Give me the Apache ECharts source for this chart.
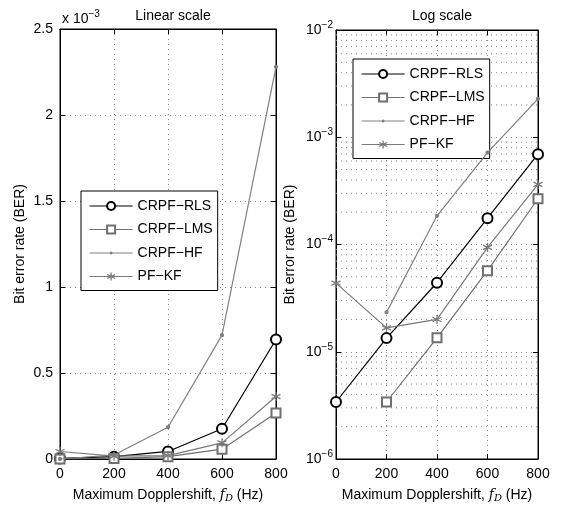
<!DOCTYPE html>
<html><head><meta charset="utf-8">
<script src="https://cdn.jsdelivr.net/npm/echarts@6/dist/echarts.min.js"></script>
<style>html,body{margin:0;padding:0;background:#fff}#c{width:562px;height:508px}</style>
</head><body><div id="c"></div>
<script>
// ---- data ----
const dopplerShift = [0, 200, 400, 600, 800];
const seriesNames = ['CRPF−RLS', 'CRPF−LMS', 'CRPF−HF', 'PF−KF'];
const berRLS = [3.4e-6, 1.34e-5, 4.4e-5, 1.76e-4, 6.95e-4];
const berLMS = [0, 3.4e-6, 1.35e-5, 5.7e-5, 2.67e-4];
const berHF  = [0, 2.33e-5, 1.85e-4, 7.2e-4, 2.28e-3];
const berKF  = [4.36e-5, 1.67e-5, 2.0e-5, 9.4e-5, 3.63e-4];
const linearTicks = [0, 0.5e-3, 1e-3, 1.5e-3, 2e-3, 2.5e-3];
const logDecades = [1e-6, 1e-5, 1e-4, 1e-3, 1e-2];

// ---- styling ----
const FONT = 'Liberation Sans, Arial, Helvetica, sans-serif';
const asterisk = 'path://M0,-5L0,5M-4.33,-2.5L4.33,2.5M-4.33,2.5L4.33,-2.5';
const dotLineIcon = 'path://M0,0L0,0ZM43,10L43,10ZM0,4.4L43,4.4L43,5.6L0,5.6ZM21.5,3.5A1.5,1.5,0,1,1,21.49,3.5Z';
const styles = [
  {color: '#000000', symbol: 'emptyCircle', size: 10},
  {color: '#6f6f6f', symbol: 'emptyRect', size: 9},
  {color: '#808080', symbol: 'circle', size: 3},
  {color: '#7a7a7a', symbol: asterisk, size: 9}
];
const allData = [berRLS, berLMS, berHF, berKF];

const GRIDCOL = '#8a8a8a';
const gridLine = {show: true, lineStyle: {color: GRIDCOL, type: [1, 4], width: 1}};
const axisLine = {show: true, onZero: false, lineStyle: {color: '#000', width: 1}};
const tickIn = {show: true, inside: true, length: 5, lineStyle: {color: '#000'}};
const labelStyle = {color: '#000', fontFamily: FONT, fontSize: 14};

function xAxes(gridIndex) {
  return [
    {type: 'value', gridIndex, min: 0, max: 800, interval: 200, position: 'bottom',
     axisLine, axisTick: tickIn, splitLine: gridLine,
     axisLabel: Object.assign({margin: 8}, labelStyle),
     name: 'Maximum Dopplershift, {it|f}{sub|D} (Hz)', nameLocation: 'middle', nameGap: 28,
     nameTextStyle: {color: '#000', fontFamily: FONT, fontSize: 14,
       rich: {it: {fontFamily: 'DejaVu Serif, serif', fontStyle: 'italic', fontSize: 14, color: '#000'},
              sub: {fontFamily: 'DejaVu Serif, serif', fontStyle: 'italic', fontSize: 10, color: '#000', verticalAlign: 'bottom', padding: [6, 0, 0, 0]}}}},
    {type: 'value', gridIndex, min: 0, max: 800, interval: 200, position: 'top',
     axisLine, axisTick: tickIn, splitLine: {show: false}, axisLabel: {show: false}}
  ];
}

const supRich = {
  b: {fontFamily: FONT, fontSize: 14, color: '#000', fontWeight: 'normal'},
  sup: {fontFamily: FONT, fontSize: 10, color: '#000', fontWeight: 'normal', verticalAlign: 'bottom', padding: [0, 0, 10, 0]}
};

const yAxisLin = {
  type: 'value', gridIndex: 0, min: linearTicks[0], max: linearTicks[linearTicks.length - 1],
  interval: linearTicks[1] - linearTicks[0], position: 'left',
  axisLine, axisTick: tickIn, splitLine: gridLine,
  axisLabel: Object.assign({margin: 7, formatter: v => String(parseFloat((v * 1000).toFixed(3)))}, labelStyle),
  name: 'Bit error rate (BER)', nameLocation: 'middle', nameGap: 33,
  nameTextStyle: {color: '#000', fontFamily: FONT, fontSize: 14}
};
const yAxisLinR = {
  type: 'value', gridIndex: 0, min: linearTicks[0], max: linearTicks[linearTicks.length - 1],
  interval: linearTicks[1] - linearTicks[0], position: 'right',
  axisLine, axisTick: tickIn, splitLine: {show: false}, axisLabel: {show: false}
};
const logFmt = v => {
  const e = Math.round(Math.log10(v));
  return '{b|10}{sup|' + (e < 0 ? '−' + (-e) : e) + '}';
};
const yAxisLog = {
  type: 'log', logBase: 10, gridIndex: 1, min: logDecades[0], max: logDecades[logDecades.length - 1],
  position: 'left', axisLine, axisTick: tickIn, splitLine: gridLine,
  axisLabel: {margin: 3, formatter: logFmt, rich: supRich},
  name: 'Bit error rate (BER)', nameLocation: 'middle', nameGap: 39,
  nameTextStyle: {color: '#000', fontFamily: FONT, fontSize: 14}
};
const yAxisLogR = {
  type: 'log', logBase: 10, gridIndex: 1, min: logDecades[0], max: logDecades[logDecades.length - 1],
  position: 'right', axisLine, axisTick: tickIn, splitLine: {show: false}, axisLabel: {show: false}
};

// minor log grid lines (2..9 x decade)
const minorVals = [];
for (let d = 0; d < logDecades.length - 1; d++) {
  for (let m = 2; m <= 9; m++) minorVals.push(m * logDecades[d]);
}

const series = [];
minorVals.forEach(v => {
  series.push({
    type: 'line', xAxisIndex: 2, yAxisIndex: 2, silent: true, symbol: 'none',
    lineStyle: {color: GRIDCOL, type: [1, 4], width: 1}, z: 1, animation: false,
    data: [[dopplerShift[0], v], [dopplerShift[dopplerShift.length - 1], v]]
  });
});
allData.forEach((arr, i) => {
  const st = styles[i];
  series.push({
    name: seriesNames[i], type: 'line', symbol: st.symbol, symbolSize: st.size,
    lineStyle: {color: st.color, width: 1.2},
    itemStyle: {color: st.color, borderColor: st.color, borderWidth: 1.3},
    animation: false, z: 2 + i,
    xAxisIndex: 0, yAxisIndex: 0,
    data: dopplerShift.map((x, k) => [x, arr[k]])
  });
});
allData.forEach((arr, i) => {
  const st = styles[i];
  series.push({
    name: seriesNames[i], type: 'line', symbol: st.symbol, symbolSize: st.size,
    lineStyle: {color: st.color, width: 1.2},
    itemStyle: {color: st.color, borderColor: st.color, borderWidth: 1.3},
    animation: false, z: 2 + i, connectNulls: false,
    xAxisIndex: 2, yAxisIndex: 2,
    data: dopplerShift.map((x, k) => arr[k] > 0 ? [x, arr[k]] : [x, null])
  });
});

const legendData = seriesNames.map((n, i) => i === 2
  ? {name: n, icon: dotLineIcon, itemStyle: {color: styles[i].color, borderWidth: 0}}
  : {name: n});

const legendCommon = {
  orient: 'vertical', data: legendData,
  backgroundColor: '#fff', borderColor: '#000', borderWidth: 1, borderRadius: 0,
  itemWidth: 43, itemHeight: 10, itemGap: 7.5,
  lineStyle: {width: 1.2},
  itemStyle: {borderWidth: 1.3},
  textStyle: {color: '#000', fontFamily: FONT, fontSize: 14, lineHeight: 16},
  selectedMode: false
};

const option = {
  animation: false,
  backgroundColor: '#fff',
  title: [
    {text: 'Linear scale', left: 168, top: 4, textAlign: 'center',
     textStyle: {color: '#000', fontFamily: FONT, fontSize: 14, fontWeight: 'normal'}},
    {text: 'Log scale', left: 437, top: 4, textAlign: 'center',
     textStyle: {color: '#000', fontFamily: FONT, fontSize: 14, fontWeight: 'normal'}},
    {text: '{b|x 10}{sup|−3}', left: 57, top: 4,
     textStyle: {fontWeight: 'normal', rich: supRich}}
  ],
  grid: [
    {left: 60, top: 29, width: 216, height: 432, show: true, borderColor: '#000', borderWidth: 1, backgroundColor: '#fff'},
    {left: 336, top: 30, width: 202, height: 429, show: true, borderColor: '#000', borderWidth: 1, backgroundColor: '#fff'}
  ],
  xAxis: [...xAxes(0), ...xAxes(1)],
  yAxis: [yAxisLin, yAxisLinR, yAxisLog, yAxisLogR],
  legend: [
    Object.assign({}, legendCommon, {left: 81, top: 191, padding: [7, 5, 6, 8]}),
    Object.assign({}, legendCommon, {left: 353, top: 59, padding: [7, 5, 6, 8]})
  ],
  series
};
const chart = echarts.init(document.getElementById('c'), null, {renderer: 'canvas'});
chart.setOption(option);
</script></body></html>
